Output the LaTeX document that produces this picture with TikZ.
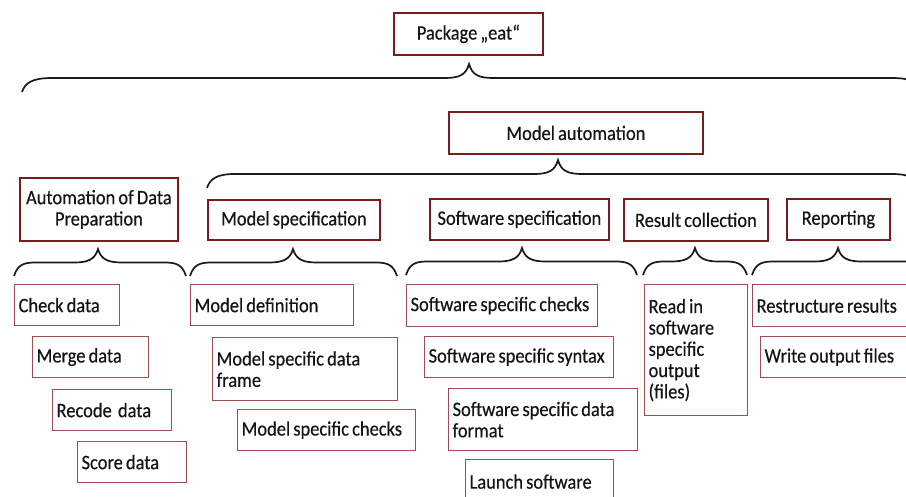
\documentclass[tikz,border=0pt]{standalone}
\usepackage{fontspec}
\setmainfont{Carlito}[FakeStretch=0.9, WordSpace=0.75, FakeBold=0.4]
\definecolor{headred}{RGB}{122,28,28}
\definecolor{leafred}{RGB}{158,78,78}
\definecolor{inkgray}{RGB}{20,20,20}

% curly brace: x left, x tip, x right, y ends, y tip, end width
\newcommand{\curlybrace}[6]{%
  \draw[brace line] (#1,#4) .. controls (#1+3,{(#4+#5)/2+5}) and (#1+#6/3,{(#4+#5)/2}) .. (#1+#6,{(#4+#5)/2})
    -- (#2-24,{(#4+#5)/2}) .. controls (#2-10,{(#4+#5)/2}) and (#2-3,{(#4+#5)/2-3}) .. (#2,#5)
    .. controls (#2+3,{(#4+#5)/2-3}) and (#2+10,{(#4+#5)/2}) .. (#2+24,{(#4+#5)/2})
    -- (#3-#6,{(#4+#5)/2}) .. controls (#3-#6/3,{(#4+#5)/2}) and (#3-3,{(#4+#5)/2+5}) .. (#3,#4);}

\begin{document}
\begin{tikzpicture}[x=1pt, y=-1pt,
  font=\fontsize{20.5}{21.3}\selectfont,
  head/.style={draw=headred, line width=1.8pt, anchor=north west, align=center, inner sep=0pt, text=inkgray},
  leaf/.style={draw=leafred, line width=1.2pt, anchor=north west, align=flush left, inner xsep=4pt, inner ysep=0pt, text=inkgray},
  brace line/.style={line width=1.7pt, black!90}]
  \useasboundingbox (0,0) rectangle (906,497);
  \clip (0,0) rectangle (906,497);

  % headers
  \node[head, minimum width=149, minimum height=42] (pkg) at (393,12) {Package „eat“};
  \node[head, minimum width=254, minimum height=42] (modelauto) at (448,111) {Model automation};
  \node[head, minimum width=158, minimum height=63] (dataprep) at (19,177) {Automation of Data\\Preparation};
  \node[head, minimum width=172, minimum height=40] (modelspec) at (207,199) {Model specification};
  \node[head, minimum width=179, minimum height=41] (softspec) at (429,198) {Software specification};
  \node[head, minimum width=144, minimum height=42] (resultcoll) at (623,198) {Result collection};
  \node[head, minimum width=103, minimum height=41] (reporting) at (786,198) {Reporting};

  % data preparation
  \node[leaf, text width=97, minimum height=41] (checkdata) at (14,284) {Check data};
  \node[leaf, text width=108, minimum height=41] (mergedata) at (32,336) {Merge data};
  \node[leaf, text width=111, minimum height=41] (recodedata) at (52,389) {Recode\ \ data};
  \node[leaf, text width=101, minimum height=41] (scoredata) at (77,441) {Score data};

  % model specification
  \node[leaf, text width=155, minimum height=41] (modeldef) at (190,284) {Model definition};
  \node[leaf, text width=177, minimum height=63] (modelframe) at (212,337) {Model specific data\\frame};
  \node[leaf, text width=170, minimum height=41] (modelchecks) at (237,409) {Model specific checks};

  % software specification
  \node[leaf, text width=183, minimum height=42] (softchecks) at (406,284) {Software specific checks};
  \node[leaf, text width=181, minimum height=41] (softsyntax) at (424,336) {Software specific syntax};
  \node[leaf, text width=181, minimum height=62] (softformat) at (448,388) {Software specific data\\format};
  \node[leaf, text width=140, minimum height=44] (launch) at (465,459) {Launch software};

  % results and reporting
  \node[leaf, text width=95, minimum height=131] (readin) at (644,284) {Read in\\software\\specific\\output\\(files)};
  \node[leaf, text width=150, minimum height=42] (restructure) at (752,284) {Restructure results};
  \node[leaf, text width=142, minimum height=41] (writeout) at (760,336) {Write output files};

  % braces
  \curlybrace{22}{469}{922}{92}{64}{30}
  \curlybrace{207}{558}{920}{188}{160}{28}
  \curlybrace{14}{98}{186}{276}{249}{20}
  \curlybrace{190}{293}{397}{276}{249}{20}
  \curlybrace{406}{522}{637}{275}{248}{20}
  \curlybrace{643}{695}{747}{275}{248}{20}
  \curlybrace{752}{838}{924}{275}{248}{20}
\end{tikzpicture}
\end{document}
